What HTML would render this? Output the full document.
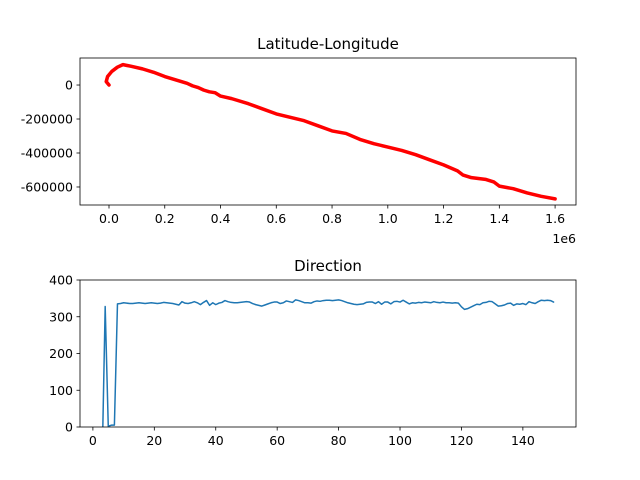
<!DOCTYPE html>
<html><head><meta charset="utf-8"><style>
body{margin:0;background:#fff;}
svg{display:block;font-family:"DejaVu Sans","Liberation Sans",sans-serif;}
</style></head><body>
<svg id="c" width="640" height="480"></svg>
<script>
const llX=[0.0,-0.01,-0.005,0.01,0.03,0.05,0.08,0.12,0.16,0.2,0.24,0.28,0.3,0.32,0.34,0.36,0.38,0.4,0.44,0.5,0.55,0.6,0.65,0.7,0.75,0.8,0.85,0.9,0.95,1.0,1.05,1.1,1.15,1.2,1.25,1.27,1.3,1.35,1.38,1.4,1.45,1.5,1.55,1.6];
const llY=[0,20,50,80,105,120,110,95,75,50,30,10,-5,-15,-30,-40,-45,-65,-80,-110,-140,-170,-190,-210,-240,-270,-285,-320,-345,-365,-385,-410,-440,-470,-505,-530,-545,-555,-570,-595,-610,-635,-655,-670];
const llTicksX=[0,0.2,0.4,0.6,0.8,1.0,1.2,1.4,1.6];
const llTicksY=[0,-200000,-400000,-600000];
const dirVals=[-100,-100,-100,-100,328,2,5,5,335,336,338,337,336,336,337,338,337,336,337,338,337,336,337,339,338,337,336,334,332,341,337,336,338,341,338,333,339,344,331,338,333,337,339,344,341,339,338,338,339,340,341,340,336,333,331,329,332,335,338,340,340,336,338,343,341,339,346,344,341,338,338,337,341,343,342,344,345,345,344,345,346,344,341,338,336,334,333,334,335,339,340,340,336,341,334,340,340,335,341,342,340,345,340,335,338,337,339,338,340,339,338,341,339,338,340,338,338,337,338,337,327,320,322,326,330,334,333,338,339,342,341,335,329,330,332,336,337,331,335,334,336,333,341,338,336,341,345,344,345,344,340];
const dirTicksX=[0,20,40,60,80,100,120,140];
const dirTicksY=[0,100,200,300,400];
const NS='http://www.w3.org/2000/svg';
const svg=document.getElementById('c');
function mk(t,a,p){const e=document.createElementNS(NS,t);for(const k in a)e.setAttribute(k,a[k]);(p||svg).appendChild(e);return e;}
function panel(o){
 const g=mk('g',{});
 
 
 const sx=v=>o.L+(v-o.x0)/(o.x1-o.x0)*(o.R-o.L);
 const sy=v=>o.B-(v-o.y0)/(o.y1-o.y0)*(o.B-o.T);
 const cid='clip'+o.name;
 const cp=mk('clipPath',{id:cid},g);mk('rect',{x:o.L,y:o.T,width:o.R-o.L,height:o.B-o.T},cp);
 const pts=o.xs.map((x,i)=>sx(x).toFixed(2)+','+sy(o.ys[i]).toFixed(2)).join(' ');
 const ln=mk('polyline',{points:pts,fill:'none',stroke:o.color,'stroke-width':o.sw,'stroke-linejoin':'round','stroke-linecap':'round','clip-path':'url(#'+cid+')'},g);
 
 
 const fr=mk('rect',{x:o.L,y:o.T,width:o.R-o.L,height:o.B-o.T,fill:'none',stroke:'#000','stroke-width':0.8},g);
 
 
 o.tx.forEach(v=>{const x=sx(v);mk('line',{x1:x,x2:x,y1:o.B,y2:o.B+3.5,stroke:'#000','stroke-width':0.8},g);
  const t=mk('text',{x:x,y:o.B+18,'text-anchor':'middle','font-size':12.5},g);t.textContent=o.fx(v);
  
  });
 o.ty.forEach(v=>{const y=sy(v);mk('line',{x1:o.L-3.5,x2:o.L,y1:y,y2:y,stroke:'#000','stroke-width':0.8},g);
  const t=mk('text',{x:o.L-7,y:y+4.5,'text-anchor':'end','font-size':12.5},g);t.textContent=String(v);
  
  });
 const ti=mk('text',{x:(o.L+o.R)/2,y:o.T-9,'text-anchor':'middle','font-size':15},g);ti.textContent=o.title;
 
 
 return g;
}
panel({name:'latlong',L:80,R:576,T:58,B:205,x0:-0.104,x1:1.675,y0:-706000,y1:159000,
 xs:llX,ys:llY.map(v=>v*1000),tx:llTicksX,ty:llTicksY,fx:v=>v.toFixed(1),color:'#ff0000',sw:3.5,title:'Latitude-Longitude'});
const off=mk('text',{x:576,y:243,'text-anchor':'end','font-size':12.5});off.textContent='1e6';


panel({name:'direction',L:80,R:576,T:280,B:427,x0:-4.2,x1:157.3,y0:0,y1:400,
 xs:dirVals.map((v,i)=>i),ys:dirVals,tx:dirTicksX,ty:dirTicksY,fx:v=>String(v),color:'#1f77b4',sw:1.5,title:'Direction'});
</script>
</body></html>
